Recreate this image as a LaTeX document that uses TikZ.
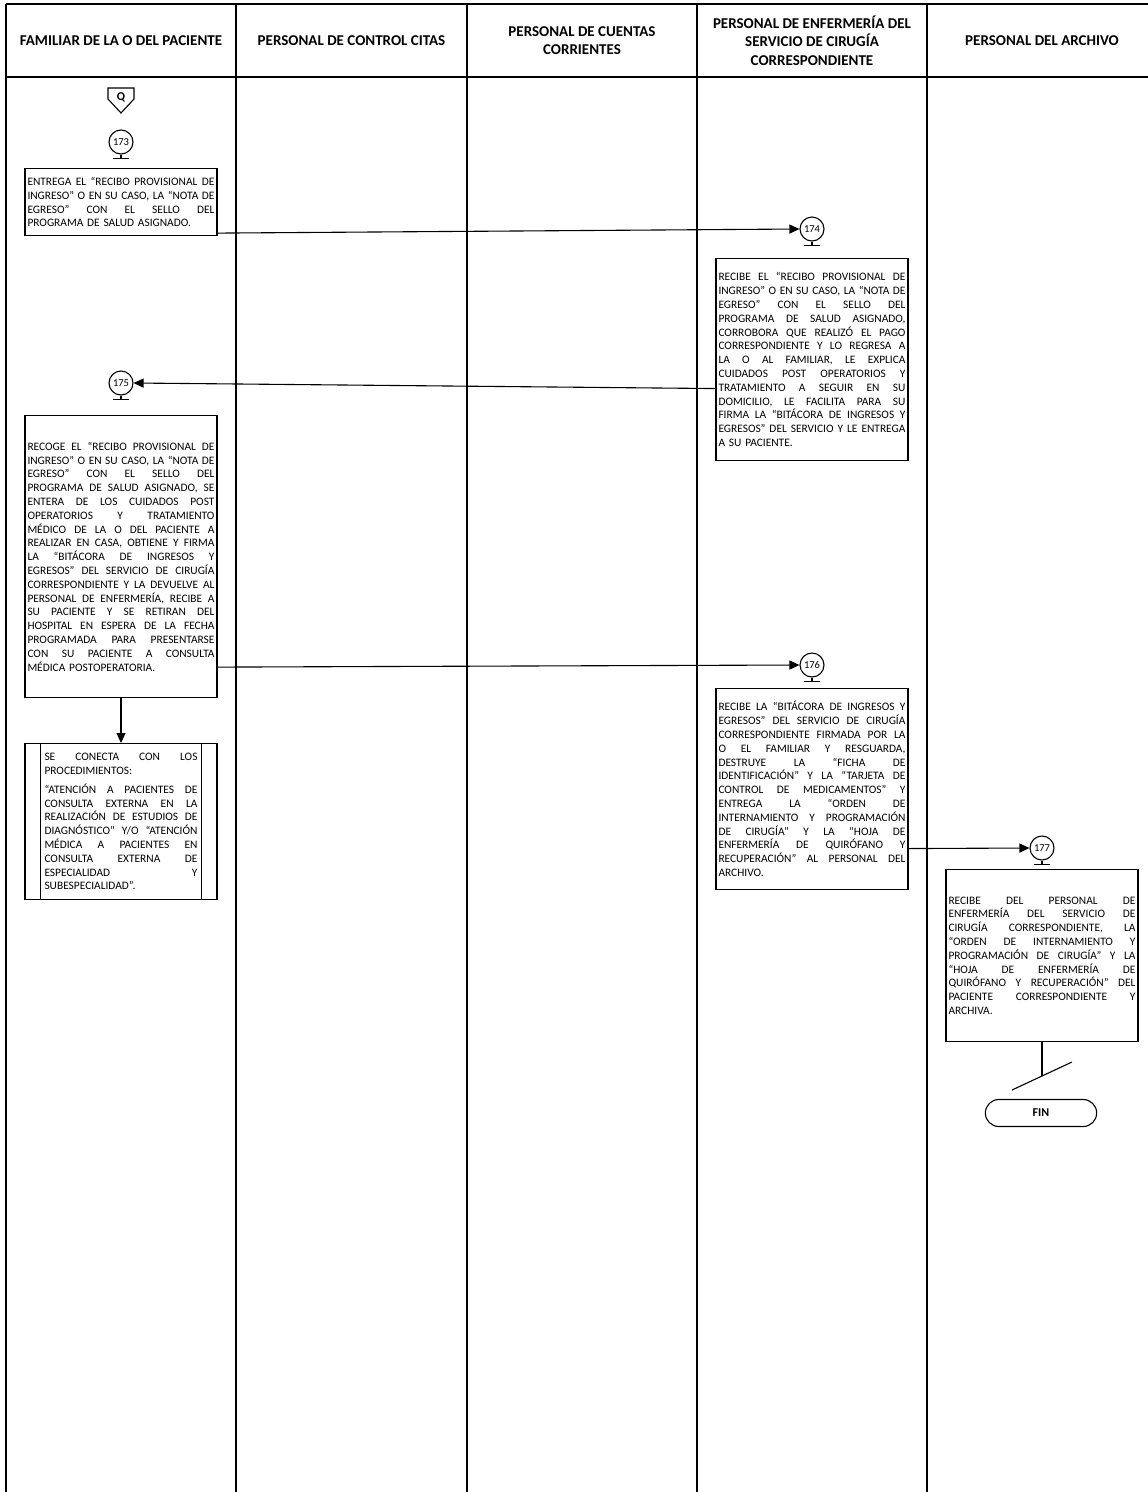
\documentclass[tikz,border=0pt]{standalone}
\usepackage{fontspec}
\setmainfont{Carlito}
\usetikzlibrary{arrows.meta,shapes.misc}
\def\jlwidth{187pt}
\newcommand{\jl}[1]{\noindent\hbox to\jlwidth{\spaceskip=.25em plus 1fil minus .06em\relax#1}\par}
\begin{document}
\begin{tikzpicture}[x=1pt,y=-1pt,
  frame/.style={line width=1.5pt,black},
  hdr/.style={font=\bfseries\fontsize{15}{18.5}\selectfont,align=center,inner sep=0pt},
  proc/.style={draw,line width=1.1pt,minimum width=192pt,text width=187pt,inner xsep=2.5pt,inner ysep=0pt,font=\fontsize{11.4}{13.8}\selectfont,align=left,anchor=north},
  conn/.style={draw,circle,line width=1.1pt,minimum size=24pt,inner sep=0pt,font=\fontsize{10.5}{10.5}\selectfont},
  arr/.style={line width=1.1pt,-{Triangle[length=10pt,width=9pt]}},
  ln/.style={line width=1.1pt}
]
\useasboundingbox (0,0) rectangle (1148,1492);
\fill[white] (0,0) rectangle (1148,1492);
% frame
\draw[frame] (6,4) -- (1148,4);
\draw[frame] (6,77) -- (1148,77);
\draw[frame] (6,4) -- (6,1492);
\foreach \xx in {236,467,697,927} \draw[frame] (\xx,4) -- (\xx,1492);
% headers
\node[hdr] (h1) at (121,40.5) {FAMILIAR DE LA O DEL PACIENTE};
\node[hdr] (h2) at (351.5,40.5) {PERSONAL DE CONTROL CITAS};
\node[hdr] (h3) at (582,40.5) {PERSONAL DE CUENTAS\\CORRIENTES};
\node[hdr] (h4) at (812,40.5) {PERSONAL DE ENFERMERÍA DEL\\SERVICIO DE CIRUGÍA\\CORRESPONDIENTE};
\node[hdr] (h5) at (1042,40.5) {PERSONAL DEL ARCHIVO};
% off-page connector Q
\node[font=\bfseries\fontsize{12}{12}\selectfont,inner sep=0pt] (q) at (121,97.5) {Q};
\draw[ln] (108,88) -- (134,88) -- (134,99) -- (121,113) -- (108,99) -- cycle;
% connectors with stems
\foreach \nm/\cx/\cy in {173/121/142,174/812/229,175/121/383,176/812/665,177/1042/848}{
  \node[conn] (c\nm) at (\cx,\cy) {\nm};
  \draw[ln] (c\nm.south) -- ++(0,4) coordinate (s\nm);
  \draw[ln] ([xshift=-8pt]s\nm) -- ([xshift=8pt]s\nm);
}
% boxes
\node[proc,minimum height=67pt] (b173) at (121,168) {%
\jl{ENTREGA EL “RECIBO PROVISIONAL DE}
\jl{INGRESO” O EN SU CASO, LA “NOTA DE}
\jl{EGRESO” CON EL SELLO DEL}
PROGRAMA DE SALUD ASIGNADO.};
\node[proc,minimum height=202pt] (b174) at (812,258) {%
\jl{RECIBE EL “RECIBO PROVISIONAL DE}
\jl{INGRESO” O EN SU CASO, LA “NOTA DE}
\jl{EGRESO” CON EL SELLO DEL}
\jl{PROGRAMA DE SALUD ASIGNADO,}
\jl{CORROBORA QUE REALIZÓ EL PAGO}
\jl{CORRESPONDIENTE Y LO REGRESA A}
\jl{LA O AL FAMILIAR, LE EXPLICA}
\jl{CUIDADOS POST OPERATORIOS Y}
\jl{TRATAMIENTO A SEGUIR EN SU}
\jl{DOMICILIO, LE FACILITA PARA SU}
\jl{FIRMA LA “BITÁCORA DE INGRESOS Y}
\jl{EGRESOS” DEL SERVICIO Y LE ENTREGA}
A SU PACIENTE.};
\node[proc,minimum height=282pt] (b175) at (121,415) {%
\jl{RECOGE EL “RECIBO PROVISIONAL DE}
\jl{INGRESO” O EN SU CASO, LA “NOTA DE}
\jl{EGRESO” CON EL SELLO DEL}
\jl{PROGRAMA DE SALUD ASIGNADO, SE}
\jl{ENTERA DE LOS CUIDADOS POST}
\jl{OPERATORIOS Y TRATAMIENTO}
\jl{MÉDICO DE LA O DEL PACIENTE A}
\jl{REALIZAR EN CASA, OBTIENE Y FIRMA}
\jl{LA “BITÁCORA DE INGRESOS Y}
\jl{EGRESOS” DEL SERVICIO DE CIRUGÍA}
\jl{CORRESPONDIENTE Y LA DEVUELVE AL}
\jl{PERSONAL DE ENFERMERÍA, RECIBE A}
\jl{SU PACIENTE Y SE RETIRAN DEL}
\jl{HOSPITAL EN ESPERA DE LA FECHA}
\jl{PROGRAMADA PARA PRESENTARSE}
\jl{CON SU PACIENTE A CONSULTA}
MÉDICA POSTOPERATORIA.};
\node[proc,minimum height=201pt] (b176) at (812,688) {%
\jl{RECIBE LA “BITÁCORA DE INGRESOS Y}
\jl{EGRESOS” DEL SERVICIO DE CIRUGÍA}
\jl{CORRESPONDIENTE FIRMADA POR LA}
\jl{O EL FAMILIAR Y RESGUARDA,}
\jl{DESTRUYE LA “FICHA DE}
\jl{IDENTIFICACIÓN” Y LA “TARJETA DE}
\jl{CONTROL DE MEDICAMENTOS” Y}
\jl{ENTREGA LA “ORDEN DE}
\jl{INTERNAMIENTO Y PROGRAMACIÓN}
\jl{DE CIRUGÍA” Y LA “HOJA DE}
\jl{ENFERMERÍA DE QUIRÓFANO Y}
\jl{RECUPERACIÓN” AL PERSONAL DEL}
ARCHIVO.};
\node[proc,minimum height=172pt] (b177) at (1042,869) {%
\jl{RECIBE DEL PERSONAL DE}
\jl{ENFERMERÍA DEL SERVICIO DE}
\jl{CIRUGÍA CORRESPONDIENTE, LA}
\jl{“ORDEN DE INTERNAMIENTO Y}
\jl{PROGRAMACIÓN DE CIRUGÍA” Y LA}
\jl{“HOJA DE ENFERMERÍA DE}
\jl{QUIRÓFANO Y RECUPERACIÓN” DEL}
\jl{PACIENTE CORRESPONDIENTE Y}
ARCHIVA.};
\node[proc,text width=153pt,inner xsep=19.5pt,minimum height=156pt] (bse) at (121,743) {%
\def\jlwidth{153pt}%
\jl{SE CONECTA CON LOS}
PROCEDIMIENTOS:\par\vspace{5pt}
\jl{“ATENCIÓN A PACIENTES DE}
\jl{CONSULTA EXTERNA EN LA}
\jl{REALIZACIÓN DE ESTUDIOS DE}
\jl{DIAGNÓSTICO” Y/O “ATENCIÓN}
\jl{MÉDICA A PACIENTES EN}
\jl{CONSULTA EXTERNA DE}
\jl{ESPECIALIDAD Y}
SUBESPECIALIDAD”.};
\draw[ln] ([xshift=16pt]bse.north west) -- ([xshift=16pt]bse.south west);
\draw[ln] ([xshift=-16pt]bse.north east) -- ([xshift=-16pt]bse.south east);
% terminal
\node[draw,rounded rectangle,line width=1.1pt,minimum width=118pt,minimum height=27pt,font=\bfseries\fontsize{12}{12}\selectfont] (fin) at (1041,1113) {FIN};
\coordinate (e177) at (1042,1076);
\coordinate (sl1) at (1012,1090);
\coordinate (sl2) at (1072,1062);
% connectors
\draw[arr] ([yshift=3pt]b173.south east) -- (c174.west);
\draw[arr] ([yshift=-29pt]b174.west) -- (c175.east);
\draw[arr] ([yshift=31pt]b175.south east) -- (c176.west);
\draw[arr] ([yshift=-59.5pt]b176.east) -- (c177.west);
\draw[arr] (b175.south) -- (bse.north);
\draw[ln] (b177.south) -- (e177);
\draw[ln] (sl1) -- (sl2);
\end{tikzpicture}
\end{document}
